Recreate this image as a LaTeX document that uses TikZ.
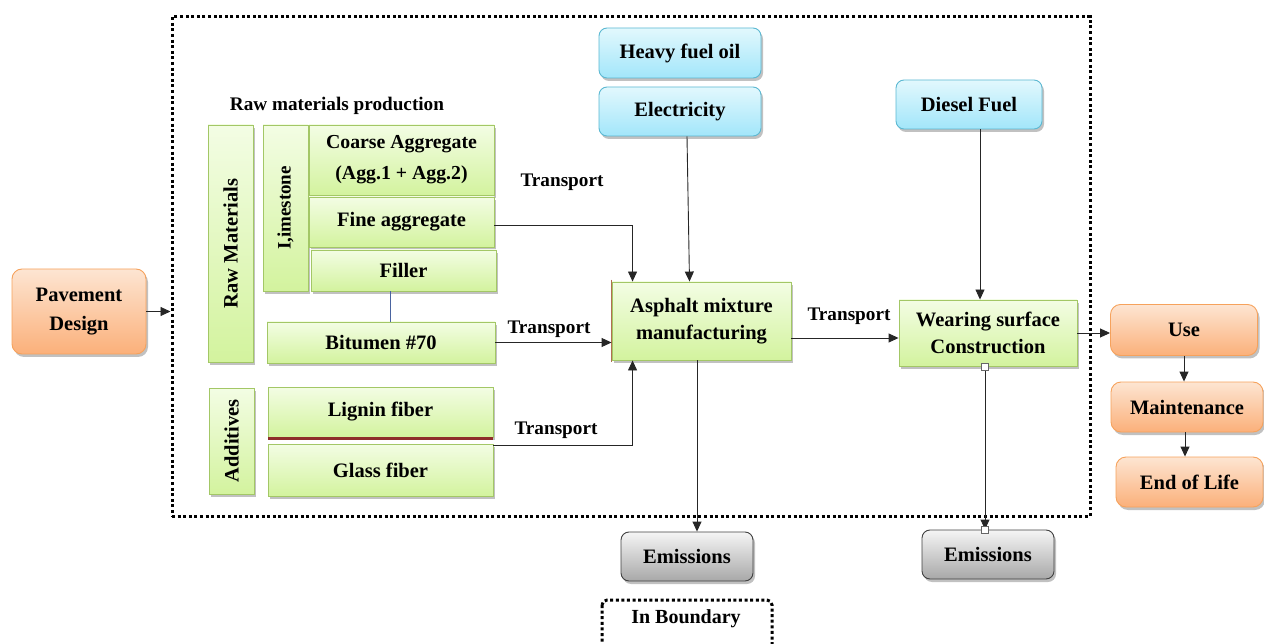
\documentclass[tikz,border=0pt]{standalone}
\usepackage{graphicx}
\usepackage{fontspec}
\setmainfont{Liberation Serif}
\usetikzlibrary{arrows.meta,shadows}
\definecolor{gtop}{HTML}{F3FDE4}
\definecolor{gbot}{HTML}{D3F39E}
\definecolor{gline}{HTML}{A3C766}
\definecolor{btop}{HTML}{E2F8FD}
\definecolor{bbot}{HTML}{A2E6FA}
\definecolor{bline}{HTML}{5BB8D2}
\definecolor{otop}{HTML}{FDE5D2}
\definecolor{obot}{HTML}{FBB07A}
\definecolor{oline}{HTML}{F6A25C}
\definecolor{etop}{HTML}{F5F5F5}
\definecolor{ebot}{HTML}{A8A8A8}
\definecolor{redstrip}{HTML}{8E2E2A}
\definecolor{fillerline}{HTML}{4A64A0}
\definecolor{brownline}{HTML}{B07050}
\tikzset{
  base/.style={draw, line width=0.9pt, font=\fontsize{20.5}{24}\selectfont\bfseries,
    align=center, inner sep=2pt,
    drop shadow={shadow xshift=2pt, shadow yshift=-3pt, opacity=0.35, fill=black!70}},
  gbox/.style={base, draw=gline, top color=gtop, bottom color=gbot},
  bbox/.style={base, draw=bline, rounded corners=8pt, top color=btop, bottom color=bbot},
  obox/.style={base, draw=oline, rounded corners=10pt, top color=otop, bottom color=obot},
  ebox/.style={base, draw=black!75, rounded corners=8pt, top color=etop, bottom color=ebot},
  arr/.style={-{Triangle[length=10pt,width=9pt]}, line width=0.9pt, draw=black!85},
  lab/.style={font=\fontsize{19.2}{22}\selectfont\bfseries, inner sep=0pt},
  bound/.style={draw, line width=3pt, dash pattern=on 3pt off 2.6pt},
}
\begin{document}
\begin{tikzpicture}[x=1pt,y=-1pt]
\useasboundingbox (0,0) rectangle (1264,644);
% boundary
\node[bound, minimum width=918pt, minimum height=499pt, inner sep=0pt] (bnd) at (631,266.5) {};
% left and right life-cycle boxes
\node[obox, minimum width=134pt, minimum height=85pt, font=\fontsize{20.5}{29}\selectfont\bfseries] (pd) at (79,311.5) {Pavement\\Design};
\node[obox, minimum width=147pt, minimum height=51pt] (use) at (1184,330) {Use};
\node[obox, minimum width=152pt, minimum height=50pt] (maint) at (1187,407) {Maintenance};
\node[obox, minimum width=147pt, minimum height=50pt] (eol) at (1189.5,482) {End of Life};
% raw materials
\node[lab, font=\fontsize{19.2}{22}\selectfont\bfseries] (rmp) at (337,106) {Raw materials production};
\node[gbox, minimum width=45pt, minimum height=237pt] (rawm) at (230.5,243.5) {\rotatebox{90}{Raw Materials}};
\node[gbox, minimum width=45pt, minimum height=166pt, font=\fontsize{19}{21}\selectfont\bfseries] (lime) at (285.5,208) {\rotatebox{90}{I,imestone}};
\node[gbox, minimum width=185pt, minimum height=70pt, font=\fontsize{19.8}{31}\selectfont\bfseries] (coarse) at (401.5,160) {Coarse Aggregate\\(Agg.1 + Agg.2)};
\node[gbox, minimum width=185pt, minimum height=50pt] (fine) at (401.5,222) {Fine aggregate};
\node[gbox, minimum width=185pt, minimum height=41pt] (filler) at (403.5,270.5) {Filler};
\node[gbox, minimum width=228pt, minimum height=41pt] (bit) at (381,342.5) {Bitumen \#70};
\node[gbox, minimum width=45pt, minimum height=106pt] (addv) at (231.5,441) {\rotatebox{90}{Additives}};
\node[gbox, minimum width=225pt, minimum height=50pt] (lignin) at (380.5,412) {Lignin fiber};
\node[gbox, minimum width=225pt, minimum height=52pt] (glass) at (380.5,470) {Glass fiber};
\fill[redstrip] (lignin.south west) rectangle ([yshift=-3pt]lignin.south east);
% energy inputs
\node[bbox, minimum width=162pt, minimum height=50pt] (hfo) at (680,53) {Heavy fuel oil};
\node[bbox, minimum width=162pt, minimum height=49pt] (elec) at (680,111.5) {Electricity};
\node[bbox, minimum width=146pt, minimum height=49pt] (diesel) at (969,104.5) {Diesel Fuel};
% processes
\node[gbox, minimum width=179pt, minimum height=78pt, font=\fontsize{20.5}{27}\selectfont\bfseries] (amm) at (701.5,321) {Asphalt mixture\\manufacturing};
\draw[brownline, line width=1.2pt] ([yshift=2pt]amm.north west) -- ([yshift=-2pt]amm.south west);
\node[gbox, minimum width=178pt, minimum height=66pt, font=\fontsize{20.5}{27}\selectfont\bfseries] (wsc) at (988,333) {Wearing surface\\Construction};
% emissions
\node[ebox, minimum width=132pt, minimum height=49pt] (em1) at (687,556.5) {Emissions};
\node[ebox, minimum width=132pt, minimum height=49pt] (em2) at (988,554.5) {Emissions};
% in boundary legend
\node[lab, font=\fontsize{20}{22}\selectfont\bfseries] (inb) at (686,619) {In Boundary};
\draw[line width=3pt, dash pattern=on 3pt off 2.6pt, rounded corners=5pt] (602,600) rectangle (772,660);
% connectors
\draw[arr] (pd.east) -- (pd.east -| bnd.west);
\draw[fillerline, line width=0.8pt] ([xshift=-13.5pt]filler.south) -- ([xshift=-13.5pt]filler.south |- bit.north);
\draw[arr] ([yshift=-3pt]fine.east) -| ([xshift=21pt]amm.north west);
\draw[arr] ([xshift=7pt]elec.south) -- ([xshift=-12pt]amm.north);
\draw[arr] (bit.east) -- (bit.east -| amm.west);
\draw[arr] ([yshift=-2pt]glass.north east) -| ([xshift=21pt]amm.south west);
\draw[arr] ([yshift=-17pt]amm.east) -- ([yshift=-17pt]amm.east -| wsc.west);
\draw[arr] ([xshift=-4.5pt]amm.south) -- ([xshift=-4.5pt]amm.south |- em1.north);
\draw[arr] ([xshift=11pt]diesel.south) -- ([xshift=11pt]diesel.south |- wsc.north);
\draw[arr] ([xshift=-3pt]wsc.south) -- ([xshift=-3pt]wsc.south |- em2.north);
\fill[white, draw=black!60, line width=0.5pt] ([xshift=-3pt]wsc.south) ++(-3.5,-3.5) rectangle ++(7,7);
\fill[white, draw=black!60, line width=0.5pt] ([xshift=-3pt]wsc.south |- em2.north) ++(-3.5,-3.5) rectangle ++(7,7);
\draw[arr] (wsc.east) -- (wsc.east -| use.west);
\draw[arr] (use.south) -- (use.south |- maint.north);
\draw[arr] ([xshift=-2pt]maint.south) -- ([xshift=-2pt]maint.south |- eol.north);
% transport labels
\node[lab] (t1) at (562,182) {Transport};
\node[lab] (t2) at (549,329) {Transport};
\node[lab] (t3) at (556,430) {Transport};
\node[lab] (t4) at (849,316) {Transport};
\end{tikzpicture}
\end{document}
